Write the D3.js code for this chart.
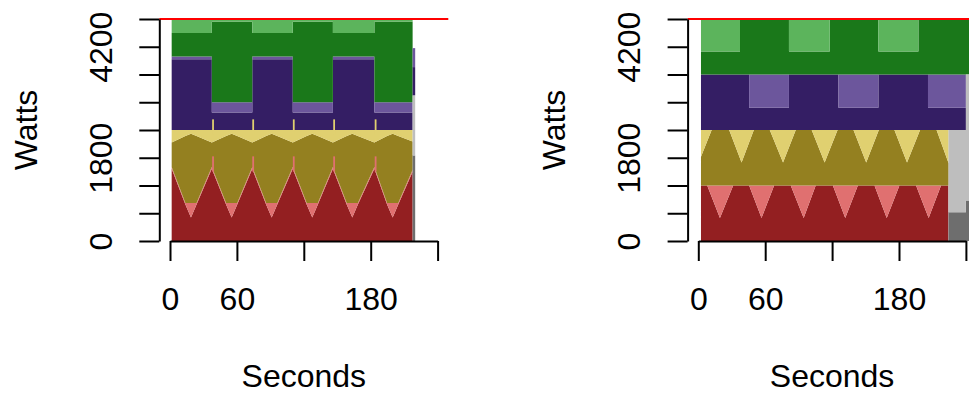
<!DOCTYPE html>
<html>
<head>
<meta charset="utf-8">
<script src="https://cdn.jsdelivr.net/npm/d3@7"></script>
<style>
  body { margin: 0; background: #fff; }
  svg { display: block; font-family: "Liberation Sans", Arial, sans-serif; }
</style>
</head>
<body>
<svg id="chart" width="969" height="396"></svg>
<script>
// ---------------- data ----------------
const powerCap = 4800;
const yTicks = [0, 600, 1200, 1800, 2400, 3000, 3600, 4200, 4800];
const yTickLabels = { 0: "0", 1800: "1800", 4200: "4200" };
const xTicks = [0, 60, 120, 180, 240];
const xTickLabels = { 0: "0", 60: "60", 180: "180" };

// left panel: top edge (watts, stacked) of every layer on one shared time grid
const leftT = [1.5, 13.8, 18.8, 23.8, 37.5, 37.5, 50.3, 55.3, 60.3, 73.8, 73.8, 86.2, 91.2, 96.2, 110.1,
               110.1, 122.6, 127.6, 132.6, 146.1, 146.1, 158.5, 163.5, 168.5, 183.3, 183.3, 194.7, 199.7, 204.7, 217.6];
const leftRedUsed = [1560, 790, 510, 790, 1560, 1560, 790, 510, 790, 1560, 1560, 790, 510, 790, 1560,
                     1560, 790, 510, 790, 1560, 1560, 790, 510, 790, 1560, 1560, 790, 510, 790, 1500];
const leftRedAlloc = [1600, 820, 820, 820, 1600, 1600, 820, 820, 820, 1600, 1600, 820, 820, 820, 1600,
                      1600, 820, 820, 820, 1600, 1600, 820, 820, 820, 1600, 1600, 820, 820, 820, 1540];
const leftOliveUsed = [2130, 2270, 2320, 2270, 2130, 2130, 2270, 2320, 2270, 2130, 2130, 2270, 2320, 2270, 2130,
                       2130, 2270, 2320, 2270, 2130, 2130, 2270, 2320, 2270, 2130, 2130, 2270, 2320, 2270, 2150];
const leftOliveAlloc = [2400, 2400, 2400, 2400, 2400, 2400, 2400, 2400, 2400, 2400, 2400, 2400, 2400, 2400, 2400,
                        2400, 2400, 2400, 2400, 2400, 2400, 2400, 2400, 2400, 2400, 2400, 2400, 2400, 2400, 2400];
const leftPurpleUsed = [3930, 3930, 3930, 3930, 3930, 2780, 2780, 2780, 2780, 2780, 3930, 3930, 3930, 3930, 3930,
                        2780, 2780, 2780, 2780, 2780, 3930, 3930, 3930, 3930, 3930, 2780, 2780, 2780, 2780, 2780];
const leftPurpleAlloc = [3990, 3990, 3990, 3990, 3990, 3000, 3000, 3000, 3000, 3000, 3990, 3990, 3990, 3990, 3990,
                         3000, 3000, 3000, 3000, 3000, 3990, 3990, 3990, 3990, 3990, 3000, 3000, 3000, 3000, 3000];
const leftGreenUsed = [4500, 4500, 4500, 4500, 4500, 4740, 4740, 4740, 4740, 4740, 4500, 4500, 4500, 4500, 4500,
                       4740, 4740, 4740, 4740, 4740, 4500, 4500, 4500, 4500, 4500, 4740, 4740, 4740, 4740, 4740];
const leftGreenAlloc = [4800, 4800, 4800, 4800, 4800, 4800, 4800, 4800, 4800, 4800, 4800, 4800, 4800, 4800, 4800,
                        4800, 4800, 4800, 4800, 4800, 4800, 4800, 4800, 4800, 4800, 4800, 4800, 4800, 4800, 4800];
// single-second spikes at the phase switches
const leftSpikeT = [37.8, 73.8, 110.2, 146.4, 183.6];
const leftPinkSpike = [1830, 1830, 1830, 1830, 1830];
const leftYellowSpike = [2630, 2630, 2630, 2630, 2630];
// left panel: last couple of seconds, grey node takes the bottom
const leftTailT = [217.6, 219.9];
const leftTailGreyUsed = [1850, 1850];
const leftTailGreyAlloc = [3150, 3150];
const leftTailPurpleUsed = [3760, 3760];
const leftTailPurpleAlloc = [4170, 4170];

// right panel: each node has a fixed 1200 W slot, values are watts used inside it
const slot = 1200;
const rightRedT = [2.4, 8, 19.4, 31.3, 45.6, 56.7, 68, 82.9, 94.5, 105.3, 120.7, 131.8, 143.1, 158, 169, 180.4, 195.3, 206.6, 217.7, 224.3];
const rightRedW = [1200, 1200, 500, 1200, 1200, 500, 1200, 1200, 500, 1200, 1200, 500, 1200, 1200, 500, 1200, 1200, 500, 1200, 1200];
const rightOliveT = [2.4, 12, 27.7, 38.8, 49.8, 64.1, 76, 87.4, 101.7, 113.3, 124.9, 139.2, 150.6, 161.9, 175.9, 187.2, 198.9, 213.7, 224.5];
const rightOliveW = [620, 1200, 1200, 500, 1200, 1200, 500, 1200, 1200, 500, 1200, 1200, 500, 1200, 1200, 500, 1200, 1200, 480];
const rightPurpleT = [2.4, 45.6, 45.6, 81.3, 81.3, 125.7, 125.7, 161.5, 161.5, 206, 206, 240];
const rightPurpleW = [1200, 1200, 480, 480, 1200, 1200, 480, 480, 1200, 1200, 480, 480];
const rightGreenT = [2.4, 37.4, 37.4, 81.3, 81.3, 117.9, 117.9, 161.5, 161.5, 197.4, 197.4, 246];
const rightGreenW = [500, 500, 1200, 1200, 500, 500, 1200, 1200, 500, 500, 1200, 1200];
const rightGreyT = [224.4, 240, 240, 246];
const rightGreyW = [620, 620, 877, 877];
const rightGreyTop = [2400, 2400, 3600, 3600];

const col = {
  redUsed: "#931f21", redFree: "#e07070",
  oliveUsed: "#948020", oliveFree: "#e0d070",
  purpleUsed: "#341e64", purpleFree: "#6c569c",
  greenUsed: "#1a781a", greenFree: "#5cb45c",
  greyUsed: "#6e6e6e", greyFree: "#bebebe"
};

// ---------------- drawing ----------------
const svg = d3.select("#chart");
const y = d3.scaleLinear().domain([0, powerCap]).range([241, 19]);

function band(g, x, t, lo, hi, fill) {
  const pts = t.map((d, i) => [d, lo[i], hi[i]]);
  g.append("path")
    .datum(pts)
    .attr("fill", fill)
    .attr("d", d3.area().x(d => x(d[0])).y0(d => y(d[1])).y1(d => y(d[2])));
}

function spikes(g, x, t, lo, hi, fill) {
  g.selectAll(null)
    .data(t.map((d, i) => [d, lo[i], hi[i]]))
    .enter().append("rect")
    .attr("x", d => x(d[0]))
    .attr("width", d => x(d[0] + 1.6) - x(d[0]))
    .attr("y", d => y(d[2]))
    .attr("height", d => y(d[1]) - y(d[2]))
    .attr("fill", fill);
}

function frame(left) {
  const x = d3.scaleLinear().domain([-9.6, 249.6]).range([left, left + 289]);
  const g = svg.append("g");
  return { x, g };
}

function axes(p) {
  const { x, g } = p;
  const left = x.range()[0];

  // power cap
  g.append("line")
    .attr("x1", x.range()[0]).attr("x2", x.range()[1])
    .attr("y1", y(powerCap)).attr("y2", y(powerCap))
    .attr("stroke", "#ff0000").attr("stroke-width", 2.2);

  const ya = g.append("g")
    .attr("transform", "translate(" + left + ",0)")
    .call(d3.axisLeft(y).tickValues(yTicks).tickSize(20).tickSizeOuter(0)
      .tickFormat(d => yTickLabels[d] || ""));
  ya.selectAll("text")
    .attr("x", 0).attr("dy", 0)
    .attr("transform", "translate(-47.6,0) rotate(-90)")
    .attr("text-anchor", "middle");

  const xs = x.copy().domain([0, 240]).range([x(0), x(240)]);
  const xa = g.append("g")
    .attr("transform", "translate(0,241)")
    .call(d3.axisBottom(xs).tickValues(xTicks).tickSize(20).tickSizeOuter(0)
      .tickFormat(d => xTickLabels[d] || ""));
  xa.selectAll("text").attr("y", 69).attr("dy", 0);

  g.selectAll(".domain, .tick line").attr("stroke", "#000").attr("stroke-width", 2);
  g.selectAll(".tick text").attr("fill", "#000").style("font-size", "32px")
    .style("font-family", "'Liberation Sans', Arial, sans-serif");

  g.append("text")
    .attr("text-anchor", "middle")
    .attr("transform", "translate(" + (left - 122.8) + ",130) rotate(-90)")
    .style("font-size", "32px")
    .text("Watts");
  g.append("text")
    .attr("text-anchor", "middle")
    .attr("x", left + 144.5).attr("y", 386.7)
    .style("font-size", "32px")
    .text("Seconds");
}

// left panel
const L = frame(159.3);
const zero = leftT.map(() => 0);
const leftLayers = [
  [zero, leftRedUsed, col.redUsed],
  [leftRedUsed, leftRedAlloc, col.redFree],
  [leftRedAlloc, leftOliveUsed, col.oliveUsed],
  [leftOliveUsed, leftOliveAlloc, col.oliveFree],
  [leftOliveAlloc, leftPurpleUsed, col.purpleUsed],
  [leftPurpleUsed, leftPurpleAlloc, col.purpleFree],
  [leftPurpleAlloc, leftGreenUsed, col.greenUsed],
  [leftGreenUsed, leftGreenAlloc, col.greenFree]
];
leftLayers.forEach(l => band(L.g, L.x, leftT, l[0], l[1], l[2]));
spikes(L.g, L.x, leftSpikeT, leftSpikeT.map(() => 1500), leftPinkSpike, col.redFree);
spikes(L.g, L.x, leftSpikeT, leftSpikeT.map(() => 2300), leftYellowSpike, col.oliveFree);
const tailZero = leftTailT.map(() => 0);
band(L.g, L.x, leftTailT, tailZero, leftTailGreyUsed, col.greyUsed);
band(L.g, L.x, leftTailT, leftTailGreyUsed, leftTailGreyAlloc, col.greyFree);
band(L.g, L.x, leftTailT, leftTailGreyAlloc, leftTailPurpleUsed, col.purpleUsed);
band(L.g, L.x, leftTailT, leftTailPurpleUsed, leftTailPurpleAlloc, col.purpleFree);
axes(L);

// right panel
const R = frame(687.6);
function node(t, w, base, used, free) {
  const lo = t.map(() => base);
  const mid = w.map(v => base + v);
  const hi = t.map(() => base + slot);
  band(R.g, R.x, t, lo, mid, used);
  band(R.g, R.x, t, mid, hi, free);
}
node(rightRedT, rightRedW, 0, col.redUsed, col.redFree);
node(rightOliveT, rightOliveW, slot, col.oliveUsed, col.oliveFree);
node(rightPurpleT, rightPurpleW, 2 * slot, col.purpleUsed, col.purpleFree);
node(rightGreenT, rightGreenW, 3 * slot, col.greenUsed, col.greenFree);
band(R.g, R.x, rightGreyT, rightGreyT.map(() => 0), rightGreyW, col.greyUsed);
band(R.g, R.x, rightGreyT, rightGreyW, rightGreyTop, col.greyFree);
axes(R);
</script>
</body>
</html>
